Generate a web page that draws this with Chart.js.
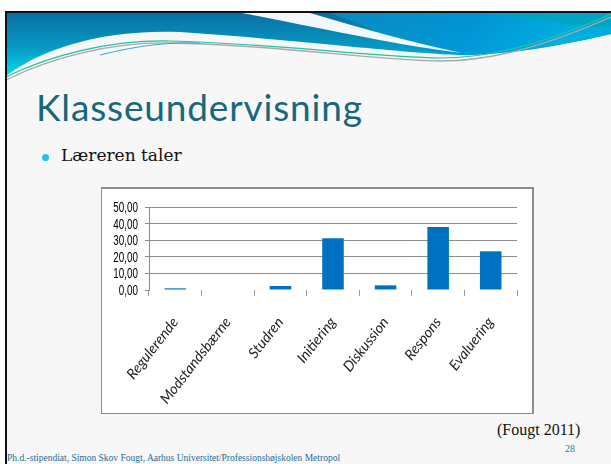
<!DOCTYPE html>
<html>
<head>
<meta charset="utf-8">
<script src="https://cdn.jsdelivr.net/npm/chart.js@4.4.1/dist/chart.umd.min.js"></script>
<style>
  html, body { margin:0; padding:0; background:#ffffff; }
  #slide { position:absolute; left:0; top:0; width:611px; height:464px; overflow:hidden; background:#ffffff; }
  #page { position:absolute; left:5px; top:12px; width:606px; height:452px; background:#f7f7f7; }
  #bl { position:absolute; left:5px; top:12px; width:2px; height:452px; background:#111; }
  #tl { position:absolute; left:5px; top:11px; width:606px; height:2px; background:#111; }
  #title { position:absolute; left:36px; top:84px; font-family:Lato, "Open Sans", sans-serif; font-size:37px; color:#17687a; white-space:nowrap; letter-spacing:0.85px; }
  #bullet { position:absolute; left:42px; top:154px; width:7px; height:7px; border-radius:50%; background:#1ec6df; }
  #btext { position:absolute; left:61px; top:145px; font-family:"DejaVu Serif", serif; font-size:17px; color:#111; white-space:nowrap; }
  #box { position:absolute; left:101px; top:187px; width:430px; height:224px; border:1px solid #8c8c8c; border-right-width:2px; border-top-width:2px; background:#ffffff; }
  #box canvas { position:absolute; left:0; top:0; }
  #src { position:absolute; left:497px; top:421px; font-family:"Liberation Serif", serif; font-size:16px; color:#111; white-space:nowrap; }
  #num { position:absolute; left:565px; top:443px; font-family:"Liberation Serif", serif; font-size:10px; color:#2a7a94; }
  #foot { position:absolute; left:7px; top:453px; font-family:"Liberation Serif", serif; font-size:9.5px; color:#1f6c96; white-space:nowrap; }
</style>
</head>
<body>
<div id="slide">
  <div id="page"></div>
  <svg width="611" height="464" style="position:absolute;left:0;top:0">
    <defs>
      <linearGradient id="g1" x1="0" y1="13" x2="0" y2="78" gradientUnits="userSpaceOnUse">
        <stop offset="0" stop-color="#0a6ea2"/>
        <stop offset="0.55" stop-color="#069cc6"/>
        <stop offset="1" stop-color="#00e2f2"/>
      </linearGradient>
      <linearGradient id="g2" x1="330" y1="13" x2="560" y2="60" gradientUnits="userSpaceOnUse">
        <stop offset="0" stop-color="#0a8fc4"/>
        <stop offset="0.6" stop-color="#0098dc"/>
        <stop offset="1" stop-color="#00b4e6"/>
      </linearGradient>
    </defs>
    <path d="M6,13 L611,13 L611,34 C560,46 510,54 470,55 C430,56 300,40 180,32 C100,29 40,50 6,76 Z" fill="url(#g1)"/>
    <path d="M330,13 L611,13 L611,34 C560,46 510,54 470,55 C440,54 420,50 400,46 C380,30 350,20 330,13 Z" fill="url(#g2)" opacity="0.85"/>
    <path d="M611,13 L611,26 C580,30 560,20 480,13 Z" fill="#03a3bf" opacity="0.8"/>
    <path d="M242,13 L310,13 C360,28 410,42 462,53 C400,46 330,30 242,13 Z" fill="#ffffff" opacity="0.95"/>
    <path d="M6,80 C50,58 110,42 170,43 C270,44 380,61 440,61 C490,61 540,48 611,17" fill="none" stroke="#a9a9a9" stroke-width="1.3"/>
    <path d="M6,77 C50,55 110,40 170,41 C270,43 380,58 440,58 C490,58 540,45 611,14" fill="none" stroke="#1fc3a6" stroke-width="1.2"/>
    <path d="M100,55 C140,45 170,42 200,43" fill="none" stroke="#3aa8d8" stroke-width="1"/>
  </svg>
  <div id="bl"></div>
  <div id="tl"></div>
  <div id="title">Klasseundervisning</div>
  <div id="bullet"></div>
  <div id="btext">Læreren taler</div>
  <div id="box"><canvas id="c" width="429" height="222"></canvas></div>
  <div id="src">(Fougt 2011)</div>
  <div id="num">28</div>
  <div id="foot">Ph.d.-stipendiat, Simon Skov Fougt, Aarhus Universitet/Professionshøjskolen Metropol</div>
</div>
<script>
const categories = ["Regulerende", "Modstandsbærne", "Studren", "Initiering", "Diskussion", "Respons", "Evaluering"];
const values = [1.0, 0, 2.4, 31.1, 2.8, 37.9, 23.3];
const yTickLabels = ["0,00", "10,00", "20,00", "30,00", "40,00", "50,00"];

const narrowYLabels = {
  id: 'narrowYLabels',
  afterDraw(chart) {
    const s = chart.scales.y;
    const ctx = chart.ctx;
    ctx.save();
    ctx.font = '14.5px "Liberation Sans", Arial, sans-serif';
    ctx.fillStyle = '#000';
    ctx.textAlign = 'right';
    ctx.textBaseline = 'middle';
    s.ticks.forEach((t, i) => {
      const y = s.getPixelForValue(t.value);
      ctx.save();
      ctx.translate(s.right - 11, y + 1);
      ctx.scale(0.68, 1);
      ctx.fillText(yTickLabels[i], 0, 0);
      ctx.restore();
    });
    ctx.restore();
  }
};

new Chart(document.getElementById('c'), {
  type: 'bar',
  data: {
    labels: categories,
    datasets: [{
      data: values,
      backgroundColor: '#0070c0',
      borderWidth: 0,
      categoryPercentage: 1.0,
      barPercentage: 0.41
    }]
  },
  options: {
    responsive: false,
    animation: false,
    devicePixelRatio: 1,
    layout: { padding: { top: 18, right: 14, left: 0, bottom: 0 } },
    plugins: { legend: { display: false }, tooltip: { enabled: false } },
    scales: {
      x: {
        afterFit: s => { s.height = 121; },
        border: { display: false },
        grid: { display: true, drawOnChartArea: false, drawTicks: true, tickLength: 6, color: '#9a9a9a', offset: true },
        ticks: {
          autoSkip: false, minRotation: 52, maxRotation: 52, padding: 18,
          color: '#222', font: { family: 'Lato, "Open Sans", sans-serif', style: 'italic', size: 14.5 }
        }
      },
      y: {
        min: 0, max: 50,
        afterFit: s => { s.width = 47; },
        border: { display: true, color: '#8c8c8c', width: 1 },
        grid: { color: c => c.tick && c.tick.value === 0 ? 'rgba(0,0,0,0)' : '#8c8c8c', tickLength: 4, lineWidth: 1, tickColor: '#8c8c8c' },
        ticks: { stepSize: 10, autoSkip: false, display: false }
      }
    }
  },
  plugins: [narrowYLabels]
});
</script>
</body>
</html>
